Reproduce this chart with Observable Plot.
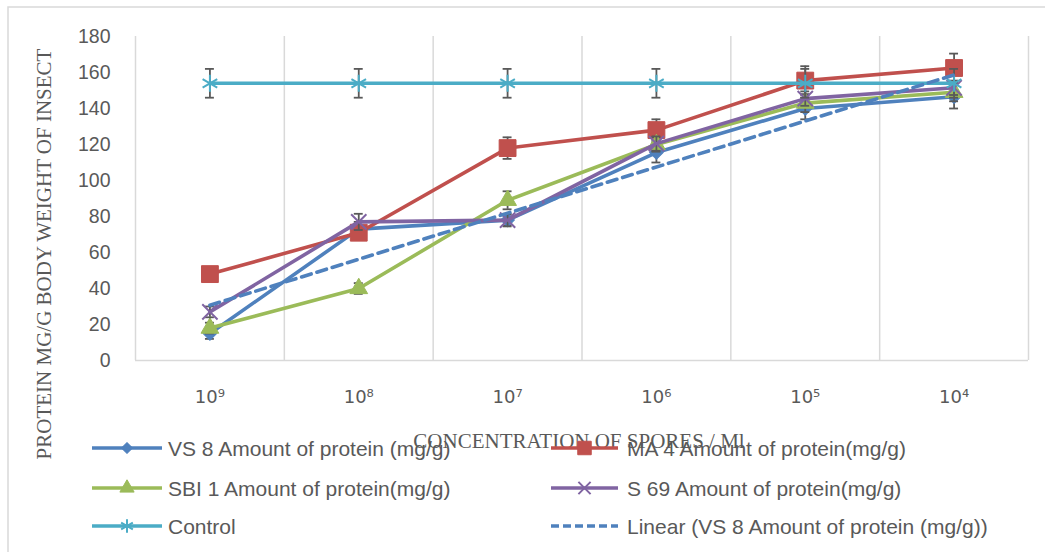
<!DOCTYPE html>
<html><head><meta charset="utf-8">
<script src="https://cdn.jsdelivr.net/npm/d3@7"></script>
<script src="https://cdn.jsdelivr.net/npm/@observablehq/plot@0.6"></script>
<style>
body{margin:0;background:#fff}
#c{position:relative;width:1045px;height:552px;overflow:hidden;background:#fff}
#c svg{position:absolute;left:0;top:0}
</style>
</head><body><div id="c"></div>
<script>
const concentrations = ["10⁹","10⁸","10⁷","10⁶","10⁵","10⁴"];
const yTicks = [0,20,40,60,80,100,120,140,160,180];
const seriesNames = [
  "VS 8 Amount of protein (mg/g)",
  "MA 4 Amount of protein(mg/g)",
  "SBI 1 Amount of protein(mg/g)",
  "S 69 Amount of protein(mg/g)",
  "Control"
];
const trendName = "Linear (VS 8 Amount of protein (mg/g))";
const vs8 = [15, 73, 78, 115.5, 140, 146.5];
const vs8Err = [3, 4, 3, 5.5, 6, 6.5];
const ma4 = [48, 71, 118, 128, 155.5, 162.5];
const ma4Err = [3, 3, 6, 6, 8, 8];
const sbi1 = [18, 40, 89, 120, 143, 149];
const sbi1Err = [3, 3, 5, 4, 5, 5];
const s69 = [27, 77, 78, 120.5, 145.5, 151.5];
const s69Err = [3, 4.5, 3.5, 4, 4, 4];
const control = [154, 154, 154, 154, 154, 154];
const controlErr = [8, 8, 8, 8, 8, 8];
const colors = ["#4F81BD", "#C0504D", "#9BBB59", "#8064A2", "#4BACC6"];
const yTitle = "PROTEIN MG/G BODY WEIGHT OF INSECT";
const xTitle = "CONCENTRATION OF SPORES / Ml";

const values = [vs8, ma4, sbi1, s69, control];
const errs = [vs8Err, ma4Err, sbi1Err, s69Err, controlErr];
const markerStyle = [
  {symbol: "square", r: 5.4, rotate: 45, filled: true},
  {symbol: "square", r: 9.5, rotate: 0, filled: true},
  {symbol: "triangle", r: 6.6, rotate: 0, filled: true},
  {symbol: "times", r: 7, rotate: 0, filled: false},
  {symbol: "asterisk", r: 8, rotate: 0, filled: false}
];
const series = values.map((vals, s) => vals.map((v, i) => ({x: i + 1, y: v, e: errs[s][i], s})));

const marks = [
  Plot.ruleX(d3.range(0.5, 7, 1), {stroke: "#D9D9D9", strokeWidth: 1.5}),
  Plot.ruleY([0], {stroke: "#D9D9D9", strokeWidth: 1.5}),
  Plot.axisY(yTicks, {tickSize: 0, tickPadding: 25, fontSize: 19.5, fill: "#595959", label: null, fontFamily: "Liberation Sans"}),
  Plot.axisX(d3.range(1, 7), {tickSize: 0, tickPadding: 30, fontSize: 18, fill: "#595959", label: null,
    tickFormat: i => concentrations[i - 1], fontFamily: "DejaVu Sans", style: "letter-spacing:2px"})
];
series.forEach((data, s) => {
  const c = colors[s], m = markerStyle[s];
  marks.push(Plot.line(data, {x: "x", y: "y", stroke: c, strokeWidth: 3.6}));
  marks.push(Plot.ruleX(data, {x: "x", y1: d => d.y - d.e, y2: d => d.y + d.e, stroke: "#595959", strokeWidth: 1.8}));
  marks.push(Plot.ruleY(data, {y: d => d.y + d.e, x1: d => d.x - 0.03, x2: d => d.x + 0.03, stroke: "#595959", strokeWidth: 1.8}));
  marks.push(Plot.ruleY(data, {y: d => d.y - d.e, x1: d => d.x - 0.03, x2: d => d.x + 0.03, stroke: "#595959", strokeWidth: 1.8}));
  marks.push(Plot.dot(data, {x: "x", y: "y", symbol: m.symbol, r: m.r, rotate: m.rotate,
    fill: m.filled ? c : "none", stroke: c, strokeWidth: m.filled ? 1 : 2}));
});
marks.push(Plot.linearRegressionY(series[0], {x: "x", y: "y", ci: 0, stroke: colors[0], strokeWidth: 3.6, strokeDasharray: "10,6"}));

const chart = Plot.plot({
  width: 1045, height: 552,
  marginLeft: 135, marginRight: 17, marginTop: 36, marginBottom: 192,
  x: {domain: [0.5, 6.5]},
  y: {domain: [0, 180]},
  style: {background: "transparent", fontFamily: "Liberation Sans"},
  marks
});
document.getElementById("c").appendChild(chart);

// overlay: frame, axis titles, legend
const ov = d3.select("#c").append("svg").attr("width", 1045).attr("height", 552).style("pointer-events", "none");
ov.append("path").attr("d", "M8,552V7H1045").attr("fill", "none").attr("stroke", "#D9D9D9").attr("stroke-width", 1.5);
ov.append("text").attr("transform", "translate(51,254) rotate(-90)").attr("text-anchor", "middle")
  .attr("font-family", "Liberation Serif").attr("font-size", 21).attr("fill", "#595959").text(yTitle);
ov.append("text").attr("x", 579).attr("y", 448).attr("text-anchor", "middle")
  .attr("font-family", "Liberation Serif").attr("font-size", 21).attr("fill", "#595959").text(xTitle);

const legendItems = seriesNames.map((n, i) => ({name: n, color: colors[i], marker: markerStyle[i], dash: null}))
  .concat([{name: trendName, color: colors[0], marker: null, dash: "8,4"}]);
const colX = [[92, 162, 168], [551, 618, 627]];
const rowY = [448, 488, 526];
const symMap = {square: d3.symbolSquare, triangle: d3.symbolTriangle, times: d3.symbolTimes, asterisk: d3.symbolAsterisk};
legendItems.forEach((it, i) => {
  const cx = colX[i % 2], y = rowY[Math.floor(i / 2)];
  const g = ov.append("g");
  g.append("line").attr("x1", cx[0]).attr("x2", cx[1]).attr("y1", y).attr("y2", y)
    .attr("stroke", it.color).attr("stroke-width", 3.6).attr("stroke-dasharray", it.dash);
  if (it.marker) {
    const m = it.marker, rr = m.r * 0.8;
    g.append("path").attr("d", d3.symbol(symMap[m.symbol], Math.PI * rr * rr)())
      .attr("transform", `translate(${(cx[0] + cx[1]) / 2},${y}) rotate(${m.rotate})`)
      .attr("fill", m.filled ? it.color : "none").attr("stroke", it.color).attr("stroke-width", m.filled ? 1 : 2);
  }
  g.append("text").attr("x", cx[2]).attr("y", y).attr("dy", "0.36em")
    .attr("font-family", "Liberation Sans").attr("font-size", 21).attr("fill", "#595959").text(it.name);
});
</script>
</body></html>
